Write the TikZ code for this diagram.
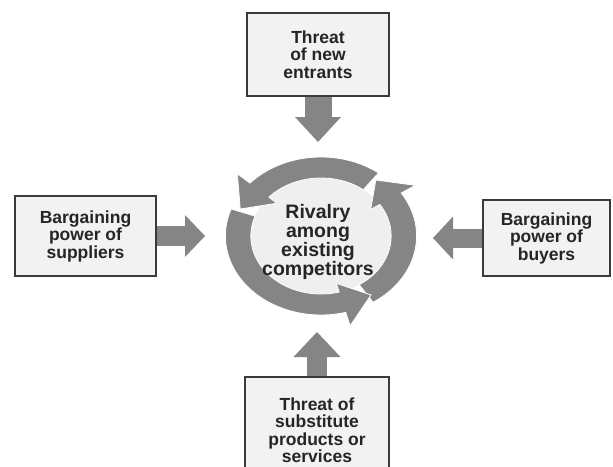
\documentclass[tikz,border=0pt]{standalone}
\usepackage{fontspec}
\setmainfont{Liberation Sans}
\usetikzlibrary{calc}
\definecolor{ringgray}{HTML}{858585}
\definecolor{boxfill}{HTML}{F2F2F2}
\definecolor{boxline}{HTML}{3A3A3A}
\definecolor{textdark}{HTML}{252525}
\definecolor{innerfill}{HTML}{EFEFEF}

% one curved arrow of the rivalry ring: tail angle, head base angle, tip angle
\newcommand\ringarrow[3]{%
  \path[fill=ringgray, draw=white, line width=0.8pt, line join=miter]
    (#1:79) arc[start angle=#1, end angle=#2, radius=79]
    -- (#2:93) -- (#3:72) -- (#2:49) -- (#2:58)
    arc[start angle=#2, end angle=#1, radius=58] -- cycle;}

\begin{document}
\begin{tikzpicture}[x=1pt, y=-1pt,
  forcebox/.style={draw=boxline, fill=boxfill, line width=1.2pt, inner sep=0pt,
    align=center, text=textdark, font=\bfseries\fontsize{17.5}{17.5}\selectfont},
  shaft/.style={draw=ringgray, line width=#1},
  head/.style={fill=ringgray},
]
\clip (0,0) rectangle (613,466);
\fill[white] (0,0) rectangle (613,466);

% the five forces
\node[forcebox, minimum width=142pt, minimum height=83pt] (ent) at (318,54.5) {Threat\\of new\\entrants};
\node[forcebox, minimum width=141pt, minimum height=80pt] (sup) at (85.5,236) {Bargaining\\power of\\suppliers};
\node[forcebox, minimum width=127pt, minimum height=76pt] (buy) at (546.5,238) {Bargaining\\power of\\buyers};
\node[forcebox, minimum width=144pt, minimum height=106pt] (sub) at (317,430) {Threat of\\substitute\\products or\\services};

% rivalry ring
\begin{scope}[shift={(321,236)}, y=1pt, xscale=1.21]
  \fill[innerfill] (0,0) circle[radius=58];
  \ringarrow{303}{393}{411}
  \ringarrow{160}{285}{305}
  \ringarrow{53}{138}{158}
\end{scope}
\node[align=center, text=textdark, font=\bfseries\fontsize{19.5}{19}\selectfont] (riv) at (318,242)
  {Rivalry\\among\\existing\\competitors};

% block arrows pointing at the ring
\coordinate (lhead) at (185,236);  \coordinate (ltip) at (205,236);
\coordinate (rhead) at (453,238);  \coordinate (rtip) at (433,238);
\coordinate (thead) at (318,117);  \coordinate (ttip) at (318,142);
\coordinate (bhead) at (317,357);  \coordinate (btip) at (317,332);

\draw[shaft=20pt] (sup.east) -- (lhead);
\fill[head] ($(lhead)+(0,-21)$) -- (ltip) -- ($(lhead)+(0,21)$) -- cycle;

\draw[shaft=19pt] (buy.west) -- (rhead);
\fill[head] ($(rhead)+(0,-21.5)$) -- (rtip) -- ($(rhead)+(0,21.5)$) -- cycle;

\draw[shaft=27pt] (ent.south) -- (thead);
\fill[head] ($(thead)+(-23,0)$) -- (ttip) -- ($(thead)+(23,0)$) -- cycle;

\draw[shaft=20pt] (sub.north) -- (bhead);
\fill[head] ($(bhead)+(-23.5,0)$) -- (btip) -- ($(bhead)+(23.5,0)$) -- cycle;

% redraw box borders over the shaft ends
\foreach \b in {ent,sup,buy,sub} \draw[boxline, line width=1.2pt] (\b.south west) rectangle (\b.north east);
\end{tikzpicture}
\end{document}
